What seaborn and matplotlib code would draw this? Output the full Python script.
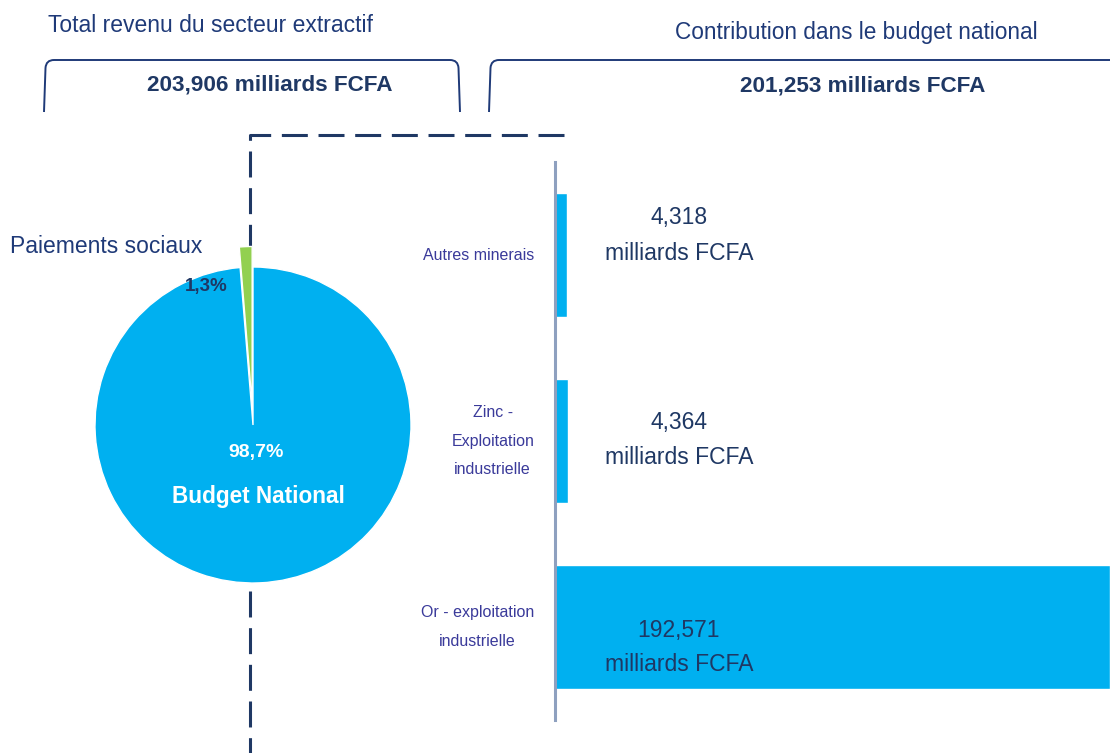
import matplotlib
matplotlib.use("Agg")
import matplotlib.pyplot as plt
import seaborn as sns
import pandas as pd
from matplotlib.path import Path
from matplotlib.patches import PathPatch

sns.set_theme(style="white")
plt.rcParams["font.family"] = ["Liberation Sans", "DejaVu Sans"]

# ---------------- data ----------------
pie_labels = ["Paiements sociaux", "Budget National"]
pie_shares = [1.3, 98.7]
pie_pct_labels = ["1,3%", "98,7%"]
categories = ["Autres minerais", "Zinc -\nExploitation\nindustrielle",
              "Or - exploitation\nindustrielle"]
values = [4.318, 4.364, 192.571]
value_labels = ["4,318", "4,364", "192,571"]
header_left = "Total revenu du secteur extractif"
header_right = "Contribution dans le budget national"
total_label = "203,906 milliards FCFA"
budget_label = "201,253 milliards FCFA"
unit_label = "milliards FCFA"

BLUE = "#00b0f0"
GREEN = "#92d050"
NAVY = "#1f3a78"
DARK = "#1f3864"

W, H = 1110, 753
fig = plt.figure(figsize=(W / 100, H / 100), dpi=100)
fig.patch.set_facecolor("white")

# -------- overlay in pixel coordinates (decorations) --------
ov = fig.add_axes([0, 0, 1, 1], zorder=0)
ov.set_xlim(0, W)
ov.set_ylim(H, 0)
ov.axis("off")


def bracket(x0, x1, ytop, ybot, r=8):
    verts = [(x0, ybot), (x0 + 1.5, ytop + r), (x0 + 2, ytop), (x0 + 2 + r, ytop),
             (x1 - 2 - r, ytop), (x1 - 2, ytop), (x1 - 1.5, ytop + r), (x1, ybot)]
    codes = [Path.MOVETO, Path.LINETO, Path.CURVE3, Path.CURVE3,
             Path.LINETO, Path.CURVE3, Path.CURVE3, Path.LINETO]
    ov.add_patch(PathPatch(Path(verts, codes), fill=False, edgecolor=NAVY, lw=1.4))


bracket(44, 460, 60, 112)
bracket(489, 1140, 60, 112)

ov.text(48, 25, header_left, color=NAVY, fontsize=16.5, va="center", ha="left")
ov.text(856, 32, header_right, color=NAVY, fontsize=16.3, va="center", ha="center")
ov.text(270, 85, total_label, color=DARK, fontsize=16.2, fontweight="bold",
        va="center", ha="center")
ov.text(863, 86, budget_label, color=DARK, fontsize=16.2, fontweight="bold",
        va="center", ha="center")

ov.plot([564, 250, 250], [135, 135, 760], color=DARK, lw=2.2,
        linestyle=(0, (8.5, 3.5)), solid_joinstyle="miter")

ov.text(10, 246, pie_labels[0], color=NAVY, fontsize=16.5, va="center", ha="left")

# ---------------- pie ----------------
R = 158
cx, cy = 253, 425
S = 2.5 * R
pax = fig.add_axes([(cx - S / 2) / W, (H - cy - S / 2) / H, S / W, S / H], zorder=2)
wedges, _ = pax.pie(pie_shares, colors=[GREEN, BLUE], startangle=90,
                    counterclock=True, explode=[0.13, 0], radius=1,
                    wedgeprops=dict(edgecolor="white", linewidth=1.0))
pax.set_xlim(-1.25, 1.25)
pax.set_ylim(-1.25, 1.25)
pax.set_aspect("equal")
pax.axis("off")
pax.patch.set_alpha(0)

fig.text(206 / W, 1 - 287 / H, pie_pct_labels[0], color=DARK, fontsize=13.5,
         fontweight="bold", va="center", ha="center", zorder=10)
fig.text(256 / W, 1 - 452 / H, pie_pct_labels[1], color="white", fontsize=14,
         fontweight="bold", va="center", ha="center", zorder=10)
fig.text(258 / W, 1 - 497 / H, pie_labels[1], color="white", fontsize=16.3,
         fontweight="bold", va="center", ha="center", zorder=10)

# ---------------- bars ----------------
top_px, bot_px = 162, 720
bax = fig.add_axes([555 / W, (H - bot_px) / H, 0.5, (bot_px - top_px) / H], zorder=1)
df = pd.DataFrame({"cat": categories, "val": values})
sns.barplot(data=df, x="val", y="cat", orient="h", color=BLUE, width=0.67,
            saturation=1, ax=bax)
bax.set_xlim(0, max(values))
bax.set_ylim(2.5, -0.5)
bax.set_xlabel("")
bax.set_ylabel("")
bax.set_xticks([])
for s in ["top", "right", "bottom"]:
    bax.spines[s].set_visible(False)
bax.spines["left"].set_color("#8ea0bf")
bax.spines["left"].set_linewidth(2.2)
bax.patch.set_alpha(0)
bax.tick_params(axis="y", length=0, pad=15)
for lab in bax.get_yticklabels():
    lab.set_family(["Liberation Sans Narrow", "Liberation Sans", "DejaVu Sans"])
    lab.set_fontsize(11.5)
    lab.set_color("#3a3a9a")
    lab.set_multialignment("center")
    lab.set_linespacing(2.1)
    lab.set_verticalalignment("center")

# two-line value labels: (number offset, unit offset) in category units
label_offsets = [(-0.20, -0.01), (-0.10, 0.09), (0.02, 0.20)]
label_x = 43
for i, (lbl, (o1, o2)) in enumerate(zip(value_labels, label_offsets)):
    bax.text(label_x, i + o1, lbl, color=DARK, fontsize=16.5, ha="center", va="center")
    bax.text(label_x, i + o2, unit_label, color=DARK, fontsize=16.5, ha="center",
             va="center")

fig.savefig("out.png", dpi=100, facecolor="white")
